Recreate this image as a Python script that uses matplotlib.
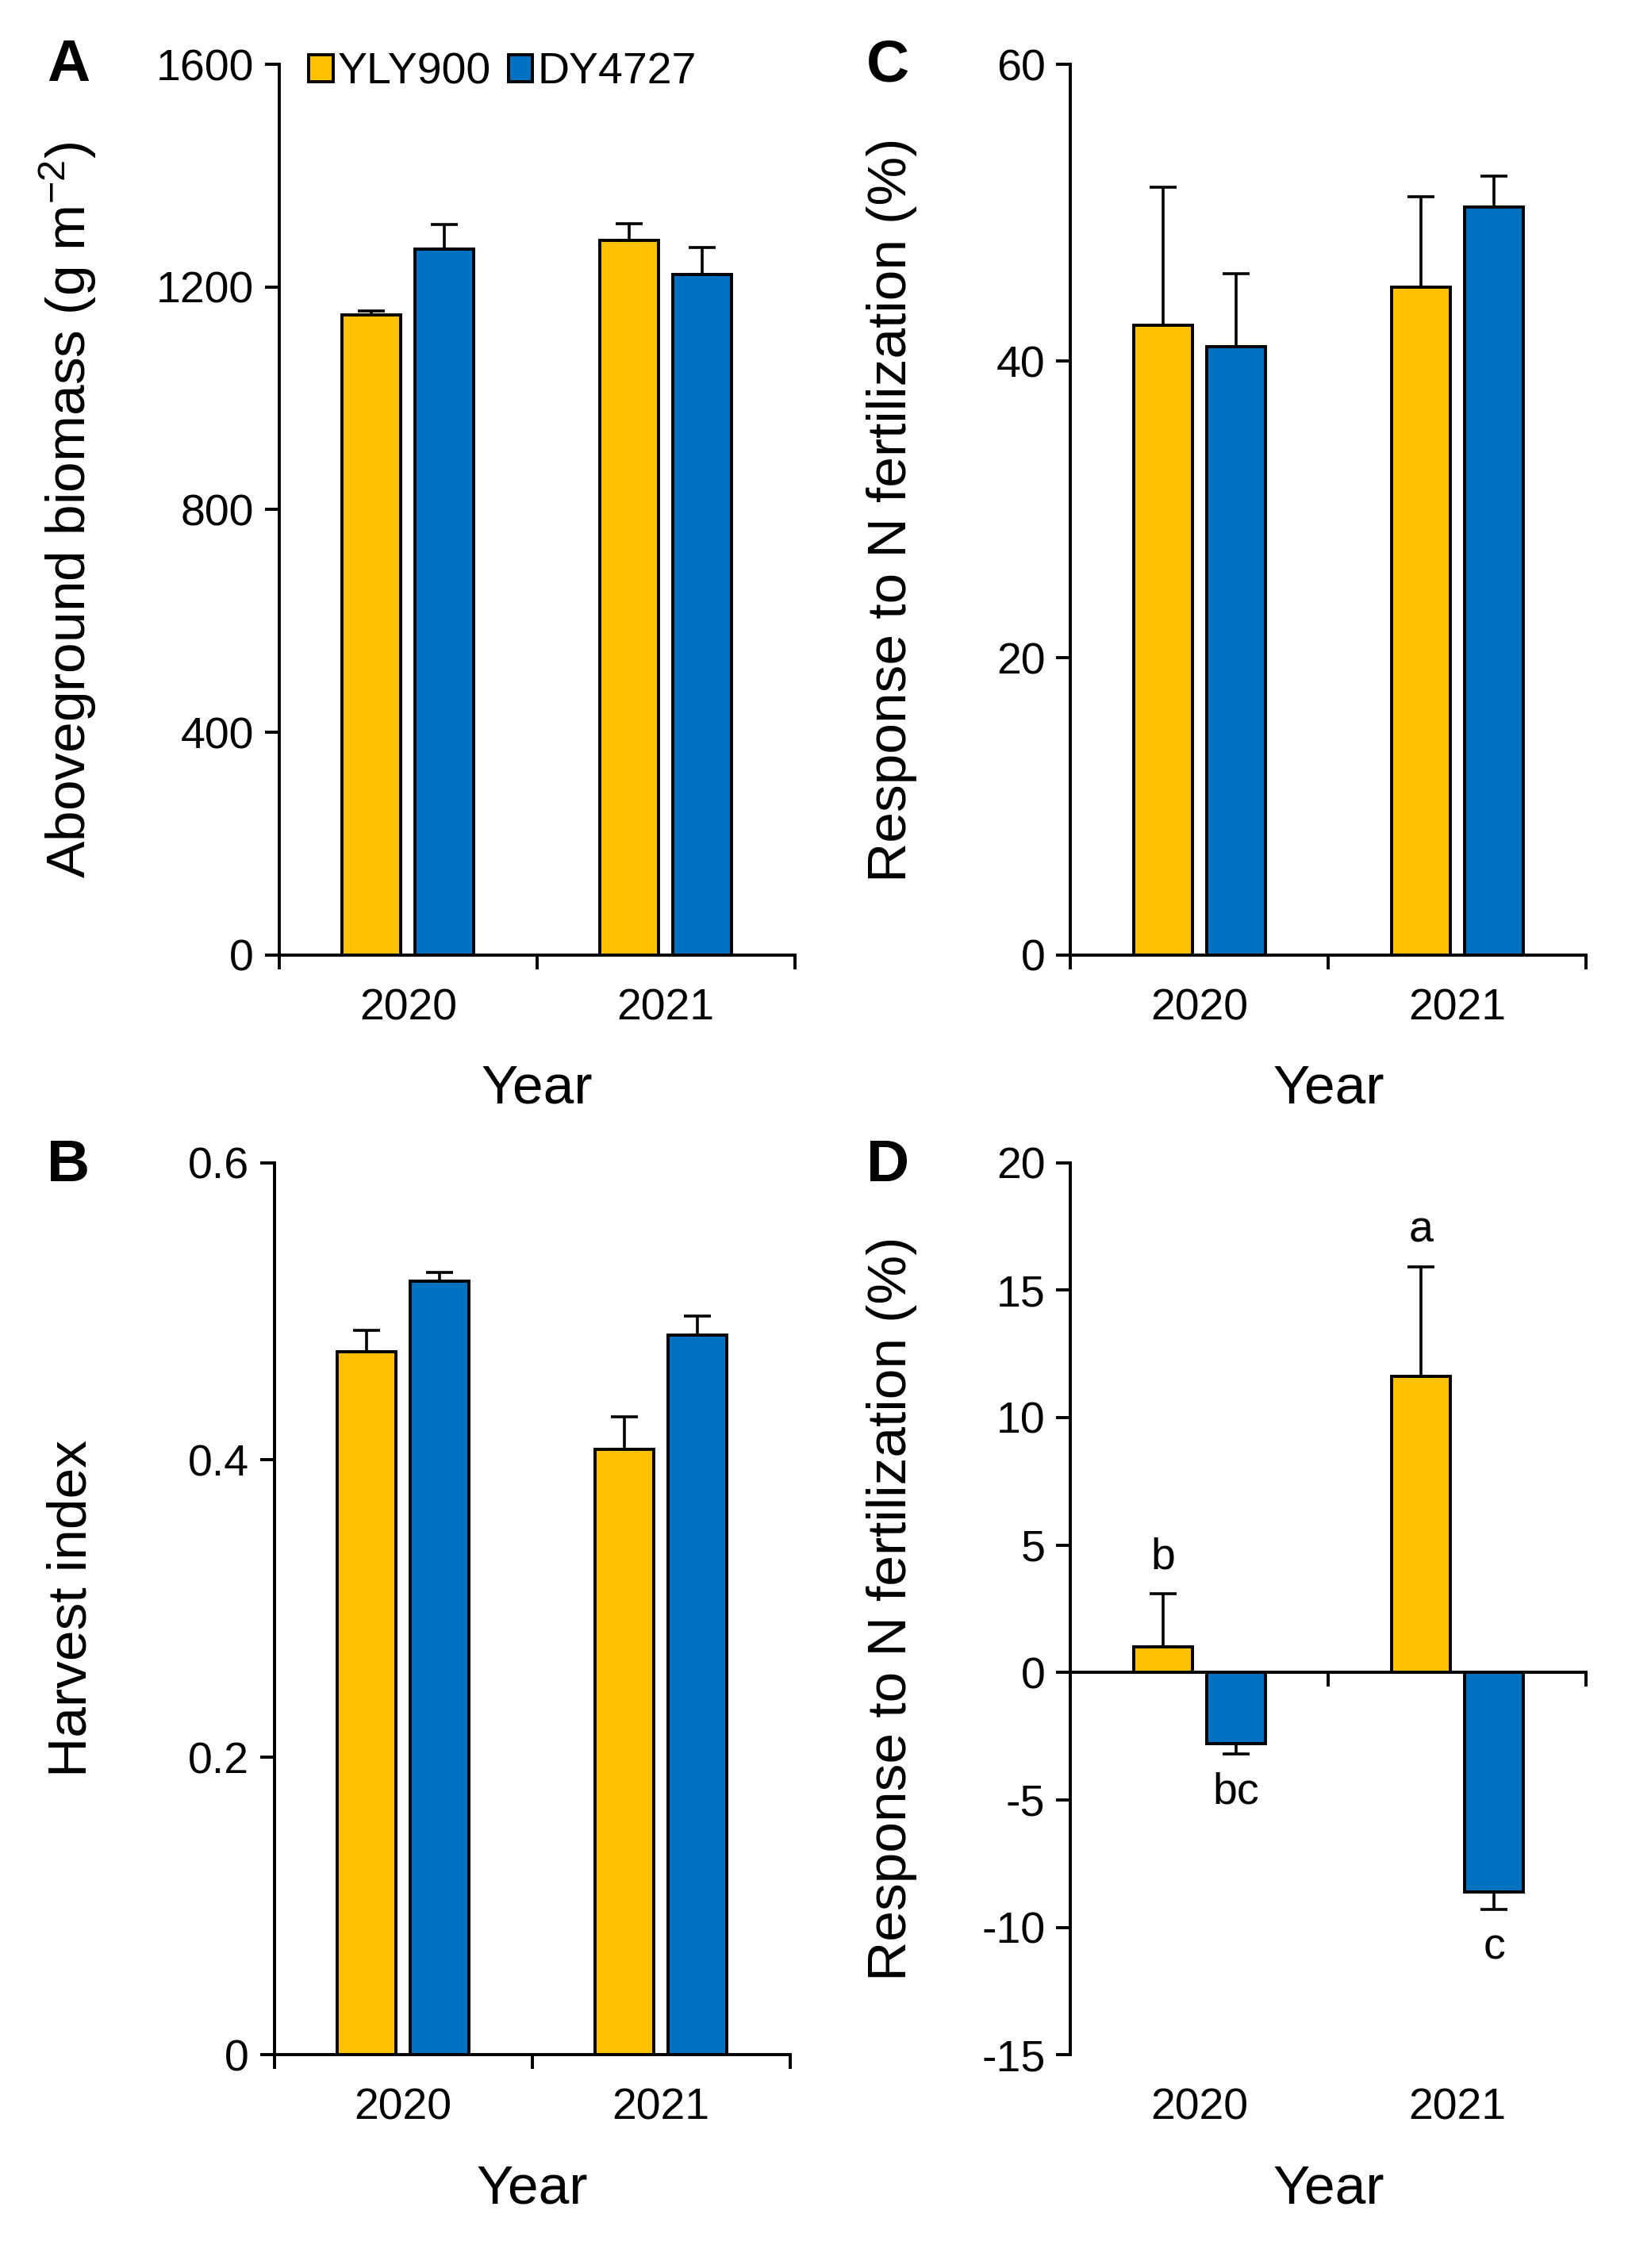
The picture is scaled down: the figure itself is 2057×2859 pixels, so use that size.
import numpy as np
import matplotlib
matplotlib.use('Agg')
import matplotlib.pyplot as plt

plt.rcParams['font.family'] = ['Liberation Sans', 'DejaVu Sans']
plt.rcParams['mathtext.fontset'] = 'custom'
plt.rcParams['mathtext.rm'] = 'Liberation Sans'
plt.rcParams['mathtext.it'] = 'Liberation Sans:italic'

years = ['2020', '2021']
cultivars = ['YLY900', 'DY4727']

# A: aboveground biomass (g m-2)
bio_yly = np.array([1150, 1284])
bio_yly_se = np.array([7, 30])
bio_dy = np.array([1268, 1222])
bio_dy_se = np.array([44, 49])

# B: harvest index
hi_yly = np.array([0.473, 0.407])
hi_yly_se = np.array([0.014, 0.022])
hi_dy = np.array([0.520, 0.484])
hi_dy_se = np.array([0.006, 0.013])

# C: response to N fertilization (%), biomass
rc_yly = np.array([42.4, 45.0])
rc_yly_se = np.array([9.3, 6.1])
rc_dy = np.array([41.0, 50.4])
rc_dy_se = np.array([4.9, 2.1])

# D: response to N fertilization (%), harvest index
rd_yly = np.array([1.0, 11.6])
rd_yly_se = np.array([2.1, 4.3])
rd_dy = np.array([-2.8, -8.6])
rd_dy_se = np.array([0.4, 0.7])
rd_letters_yly = ['b', 'a']
rd_letters_dy = ['bc', 'c']

c_yly = '#FFC000'
c_dy = '#0070C0'
width = 0.228
off = 0.142
tick_fs = 40
label_fs = 50
lw = 2.8
xpad = 30


def one_side(v, se):
    lo = np.where(v < 0, se, 0)
    hi = np.where(v >= 0, se, 0)
    return [lo, hi]


def draw(ax, v1, s1, v2, s2):
    x = np.arange(len(years))
    ekw = dict(elinewidth=2.6, capthick=2.6, capsize=12, ecolor='k')
    b1 = ax.bar(x - off, v1, width, yerr=one_side(v1, s1), color=c_yly,
                edgecolor='k', linewidth=lw, label=cultivars[0], error_kw=ekw)
    b2 = ax.bar(x + off, v2, width, yerr=one_side(v2, s2), color=c_dy,
                edgecolor='k', linewidth=lw, label=cultivars[1], error_kw=ekw)
    ax.set_xlim(-0.5, 1.5)
    ax.spines['right'].set_visible(False)
    ax.spines['top'].set_visible(False)
    ax.spines['left'].set_linewidth(lw)
    ax.spines['bottom'].set_linewidth(lw)
    ax.tick_params(axis='y', direction='out', length=13, width=lw, labelsize=tick_fs, pad=10)
    return x, b1, b2


def style_x(ax, x):
    ax.set_xticks([-0.5, 0.5, 1.5])
    ax.set_xticklabels([])
    ax.tick_params(axis='x', which='major', direction='out', length=13, width=lw)
    ax.set_xticks(x, minor=True)
    ax.set_xticklabels(years, minor=True)
    ax.tick_params(axis='x', which='minor', length=0, labelsize=tick_fs, pad=xpad)
    ax.set_xlabel('Year', fontsize=label_fs)
    ax.xaxis.set_label_coords(0.5, -0.122)


fig = plt.figure(figsize=(20.57, 28.59), dpi=100)
axA = fig.add_axes([0.171, 0.579, 0.316, 0.3926])
axB = fig.add_axes([0.168, 0.094, 0.316, 0.3934])
axC = fig.add_axes([0.656, 0.579, 0.316, 0.3926])
axD = fig.add_axes([0.656, 0.094, 0.316, 0.3934])

# A
x, b1, b2 = draw(axA, bio_yly, bio_yly_se, bio_dy, bio_dy_se)
axA.set_ylim(0, 1600)
axA.set_yticks(np.arange(0, 1601, 400))
style_x(axA, x)
axA.set_ylabel('Aboveground biomass (g m$^{-2}$)', fontsize=label_fs)
axA.yaxis.set_label_coords(-0.35, 0.5)
axA.legend(loc='upper left', bbox_to_anchor=(0.058, 1.014), ncol=2, frameon=False,
           fontsize=tick_fs, handlelength=0.55, handleheight=0.55, handletextpad=0.1,
           columnspacing=0.4, borderpad=0, borderaxespad=0)

# B
x, b1, b2 = draw(axB, hi_yly, hi_yly_se, hi_dy, hi_dy_se)
axB.set_ylim(0, 0.6)
axB.set_yticks([0, 0.2, 0.4, 0.6])
axB.set_yticklabels(['0', '0.2', '0.4', '0.6'])
style_x(axB, x)
axB.set_ylabel('Harvest index', fontsize=label_fs)
axB.yaxis.set_label_coords(-0.343, 0.5)

# C
x, b1, b2 = draw(axC, rc_yly, rc_yly_se, rc_dy, rc_dy_se)
axC.set_ylim(0, 60)
axC.set_yticks([0, 20, 40, 60])
style_x(axC, x)
axC.set_ylabel('Response to N fertilization (%)', fontsize=label_fs)
axC.yaxis.set_label_coords(-0.298, 0.5)

# D: x axis sits at zero, year labels stay at the bottom
x, b1, b2 = draw(axD, rd_yly, rd_yly_se, rd_dy, rd_dy_se)
axD.set_ylim(-15, 20)
axD.set_yticks(np.arange(-15, 21, 5))
axD.set_yticklabels([str(v) if v >= 0 else '-' + str(-v) for v in np.arange(-15, 21, 5)])
axD.spines['bottom'].set_position(('data', 0))
axD.set_xticks([-0.5, 0.5, 1.5])
axD.set_xticklabels([])
axD.tick_params(axis='x', direction='out', length=13, width=lw)
for i, yr in enumerate(years):
    axD.annotate(yr, (x[i], 0), xycoords=axD.get_xaxis_transform(),
                 xytext=(0, -xpad), textcoords='offset points',
                 ha='center', va='top', fontsize=tick_fs)
axD.text(0.5, -0.122, 'Year', transform=axD.transAxes, ha='center', va='top',
         fontsize=label_fs)
axD.set_ylabel('Response to N fertilization (%)', fontsize=label_fs)
axD.yaxis.set_label_coords(-0.298, 0.5)
for i in range(len(years)):
    axD.annotate(rd_letters_yly[i], (x[i] - off, rd_yly[i] + rd_yly_se[i]),
                 xytext=(0, 14), textcoords='offset points', ha='center', va='bottom',
                 fontsize=tick_fs)
    axD.annotate(rd_letters_dy[i], (x[i] + off, rd_dy[i] - rd_dy_se[i]),
                 xytext=(0, -16), textcoords='offset points', ha='center', va='top',
                 fontsize=tick_fs)

for lab, (fx, fy) in zip('ABCD', [(0.042, 0.971), (0.042, 0.486), (0.544, 0.971), (0.544, 0.486)]):
    fig.text(fx, fy, lab, fontsize=54, fontweight='bold', ha='center', va='center')

fig.savefig('out.png', dpi=100)
